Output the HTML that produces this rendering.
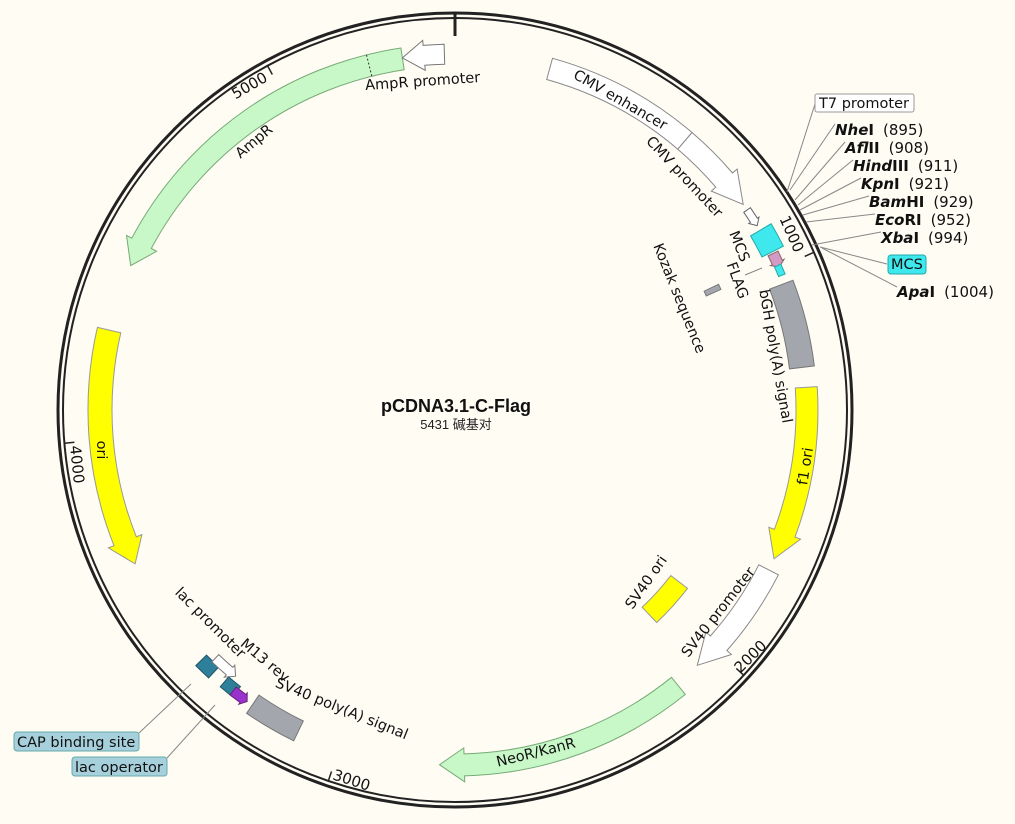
<!DOCTYPE html>
<html><head><meta charset="utf-8"><style>
html,body{margin:0;padding:0;background:#fffcf4;}
svg{display:block;font-family:"Liberation Sans","DejaVu Sans","Noto Sans CJK SC",sans-serif;}
.t{font-size:14.5px;fill:#111;font-family:"DejaVu Sans","Liberation Sans",sans-serif;}
.e{font-size:15px;font-weight:bold;fill:#111;font-family:"DejaVu Sans","Liberation Sans",sans-serif;}
.n{font-size:15px;fill:#111;font-family:"DejaVu Sans","Liberation Sans",sans-serif;}
</style></head><body>
<svg id="s" width="1015" height="824" viewBox="0 0 1015 824" xmlns="http://www.w3.org/2000/svg">
<rect width="1015" height="824" fill="#fffcf4"/>
<circle cx="455" cy="410" r="397" fill="none" stroke="#222" stroke-width="3"/>
<circle cx="455" cy="410" r="392" fill="none" stroke="#222" stroke-width="2"/>
<g id="shapes"></g>
<g id="lines" stroke="#888" stroke-width="1" fill="none">
<line x1="835" y1="124" x2="790" y2="190"/>
<line x1="815" y1="104" x2="787" y2="192"/>
<line x1="845" y1="142" x2="795" y2="200"/>
<line x1="853" y1="160" x2="798" y2="205"/>
<line x1="861" y1="178" x2="800" y2="210"/>
<line x1="869" y1="196" x2="803" y2="215"/>
<line x1="875" y1="214" x2="806" y2="222"/>
<line x1="881" y1="232" x2="812" y2="245"/>
<line x1="887" y1="264" x2="820" y2="247"/>
<line x1="897" y1="287" x2="822" y2="248"/>
<line x1="139" y1="733" x2="191" y2="684"/>
<line x1="167" y1="758" x2="215" y2="705"/>
<line x1="762" y1="268" x2="745" y2="275"/>
</g>
<text class="t" transform="translate(423,86) rotate(-4)" text-anchor="middle">AmpR promoter</text>
<text class="t" transform="translate(257,145) rotate(-40)" text-anchor="middle">AmpR</text>
<text class="t" transform="translate(618,104) rotate(30)" text-anchor="middle">CMV enhancer</text>
<text class="t" transform="translate(681,180) rotate(47)" text-anchor="middle">CMV promoter</text>
<text class="t" transform="translate(735,248) rotate(68)" text-anchor="middle">MCS</text>
<text class="t" transform="translate(733,282) rotate(70)" text-anchor="middle">FLAG</text>
<text class="t" transform="translate(675,300) rotate(68)" text-anchor="middle">Kozak sequence</text>
<text class="t" transform="translate(771,357) rotate(80)" text-anchor="middle">bGH poly(A) signal</text>
<text class="t" transform="translate(810,467) rotate(-81)" text-anchor="middle">f1 ori</text>
<text class="t" transform="translate(722,615) rotate(-52)" text-anchor="middle">SV40 promoter</text>
<text class="t" transform="translate(650,585) rotate(-55)" text-anchor="middle">SV40 ori</text>
<text class="t" transform="translate(537,757) rotate(-14)" text-anchor="middle">NeoR/KanR</text>
<text class="t" transform="translate(340,713) rotate(22)" text-anchor="middle">SV40 poly(A) signal</text>
<text class="t" transform="translate(262,664) rotate(40)" text-anchor="middle">M13 rev</text>
<text class="t" transform="translate(207,626) rotate(45)" text-anchor="middle">lac promoter</text>
<text class="t" transform="translate(97,450) rotate(90)" text-anchor="middle">ori</text>
<text class="n" font-size="13" transform="translate(787,236) rotate(66)" text-anchor="middle">1000</text>
<text class="n" font-size="13" transform="translate(754,660) rotate(-45)" text-anchor="middle">2000</text>
<text class="n" font-size="13" transform="translate(350,785) rotate(18)" text-anchor="middle">3000</text>
<text class="n" font-size="13" transform="translate(72,465) rotate(84)" text-anchor="middle">4000</text>
<text class="n" font-size="13" transform="translate(252,90) rotate(-30)" text-anchor="middle">5000</text>
<text x="456" y="412" text-anchor="middle" font-size="18" font-weight="bold" fill="#111">pCDNA3.1-C-Flag</text>
<text x="456" y="429" text-anchor="middle" font-size="13" fill="#222" font-family="Liberation Sans,Noto Sans CJK SC,sans-serif">5431 碱基对</text>
<rect x="815" y="94" width="99" height="18" rx="2" fill="#fff" stroke="#999"/>
<text class="t" x="819" y="108">T7 promoter</text>
<text x="835" y="135"><tspan class="e" font-style="italic">Nhe</tspan><tspan class="e">I</tspan><tspan class="n" dx="9">(895)</tspan></text>
<text x="845" y="153"><tspan class="e" font-style="italic">Afl</tspan><tspan class="e">II</tspan><tspan class="n" dx="9">(908)</tspan></text>
<text x="853" y="171"><tspan class="e" font-style="italic">Hind</tspan><tspan class="e">III</tspan><tspan class="n" dx="9">(911)</tspan></text>
<text x="861" y="189"><tspan class="e" font-style="italic">Kpn</tspan><tspan class="e">I</tspan><tspan class="n" dx="9">(921)</tspan></text>
<text x="869" y="207"><tspan class="e" font-style="italic">Bam</tspan><tspan class="e">HI</tspan><tspan class="n" dx="9">(929)</tspan></text>
<text x="875" y="225"><tspan class="e" font-style="italic">Eco</tspan><tspan class="e">RI</tspan><tspan class="n" dx="9">(952)</tspan></text>
<text x="881" y="243"><tspan class="e" font-style="italic">Xba</tspan><tspan class="e">I</tspan><tspan class="n" dx="9">(994)</tspan></text>
<rect x="888" y="255" width="38" height="19" rx="3" fill="#3ee8ec" stroke="#2aa"/>
<text class="t" x="891" y="269">MCS</text>
<text x="897" y="297"><tspan class="e" font-style="italic">Apa</tspan><tspan class="e">I</tspan><tspan class="n" dx="9">(1004)</tspan></text>
<rect x="14" y="732" width="125" height="19" rx="3" fill="#a6d0dc" stroke="#6aa"/>
<text class="t" x="17" y="747">CAP binding site</text>
<rect x="72" y="757" width="95" height="19" rx="3" fill="#a6d0dc" stroke="#6aa"/>
<text class="t" x="75" y="772">lac operator</text>
</svg>
<script>
(function(){
var cx=455,cy=410,g=document.getElementById('shapes'),NS='http://www.w3.org/2000/svg';
function p(a,r){var t=a*Math.PI/180;return (cx+r*Math.sin(t)).toFixed(1)+','+(cy-r*Math.cos(t)).toFixed(1);}
function add(d,fill,stroke,extra){var e=document.createElementNS(NS,'path');e.setAttribute('d',d);e.setAttribute('fill',fill);e.setAttribute('stroke',stroke||'#777');e.setAttribute('stroke-width','1');if(extra)for(var k in extra)e.setAttribute(k,extra[k]);g.appendChild(e);}
function arc(r,a,b){var la=Math.abs(b-a)>180?1:0;var sw=b>a?1:0;return ' A'+r+','+r+' 0 '+la+' '+sw+' '+p(b,r);}
function feat(a1,a2,ri,ro,fill,dir,h,w,stroke){
 var m=(ri+ro)/2;w=w||6;var d;
 if(dir==='cw'){var b=a2-h;d='M'+p(a1,ro)+arc(ro,a1,b)+' L'+p(b,ro+w)+' L'+p(a2,m)+' L'+p(b,ri-w)+' L'+p(b,ri)+arc(ri,b,a1)+' Z';}
 else if(dir==='ccw'){var b=a1+h;d='M'+p(a2,ro)+arc(ro,a2,b)+' L'+p(b,ro+w)+' L'+p(a1,m)+' L'+p(b,ri-w)+' L'+p(b,ri)+arc(ri,b,a2)+' Z';}
 else {d='M'+p(a1,ro)+arc(ro,a1,a2)+' L'+p(a2,ri)+arc(ri,a2,a1)+' Z';}
 add(d,fill,stroke);
}
[0,1000,2000,3000,4000,5000].forEach(function(bp){var a=bp/5431*360;var r2=bp===0?374:382;add('M'+p(a,bp===0?397:392)+' L'+p(a,r2),'none','#222',{'stroke-width':bp===0?'3':'1.5'});});
var G='#c8f7c8';
feat(15.5,40.5,343,365,'#fff','none',0,0,'#888');
feat(40.5,54.5,343,365,'#fff','cw',5,6,'#888');
feat(55.6,58.6,350,358,'#fff','cw',1,2,'#666');
feat(59.5,63.5,343,367,'#3ee8ec','none',0,0,'#2aa');
feat(63.8,66.2,349,360,'#d49ac6','cw',0.8,2,'#866');
feat(65.9,67.6,350,357,'#3ee8ec','none',0,0,'#2aa');
feat(69,83,337,362,'#a3a6ad','none',0,0,'#777');
feat(86.3,115,341,363,'#ffff00','cw',4.5,6,'#999');
feat(117,136.5,341,363,'#fff','cw',5,6,'#888');
feat(127.5,136.5,272,293,'#ffff00','none',0,0,'#999');
feat(141,182.5,344,366,G,'cw',4,6,'#7a7');
feat(206,214.5,346,368,'#a3a6ad','none',0,0,'#777');
feat(222.6,225.4,349,364,'#2e7f99','none',0,0,'#256');
feat(219.5,224,340,350,'#fff','ccw',1.3,3,'#777');
feat(217.8,220.3,350,363,'#2e7f99','none',0,0,'#256');
feat(215.5,218.3,353,363,'#9932cc','ccw',0.8,2,'#627');
feat(244.3,283,343,367,'#ffff00','ccw',4,6,'#999');
feat(294,351.5,344,366,G,'ccw',4,6,'#7a7');
add('M'+p(346,344)+' L'+p(346,366),'none','#333',{'stroke-dasharray':'2,2'});
feat(351.5,358.3,346,366,'#fff','ccw',3.5,5,'#777');
feat(64.5,65.6,276,292,'#a3a6ad','none',0,0,'#777');
})();
</script>
</body></html>
